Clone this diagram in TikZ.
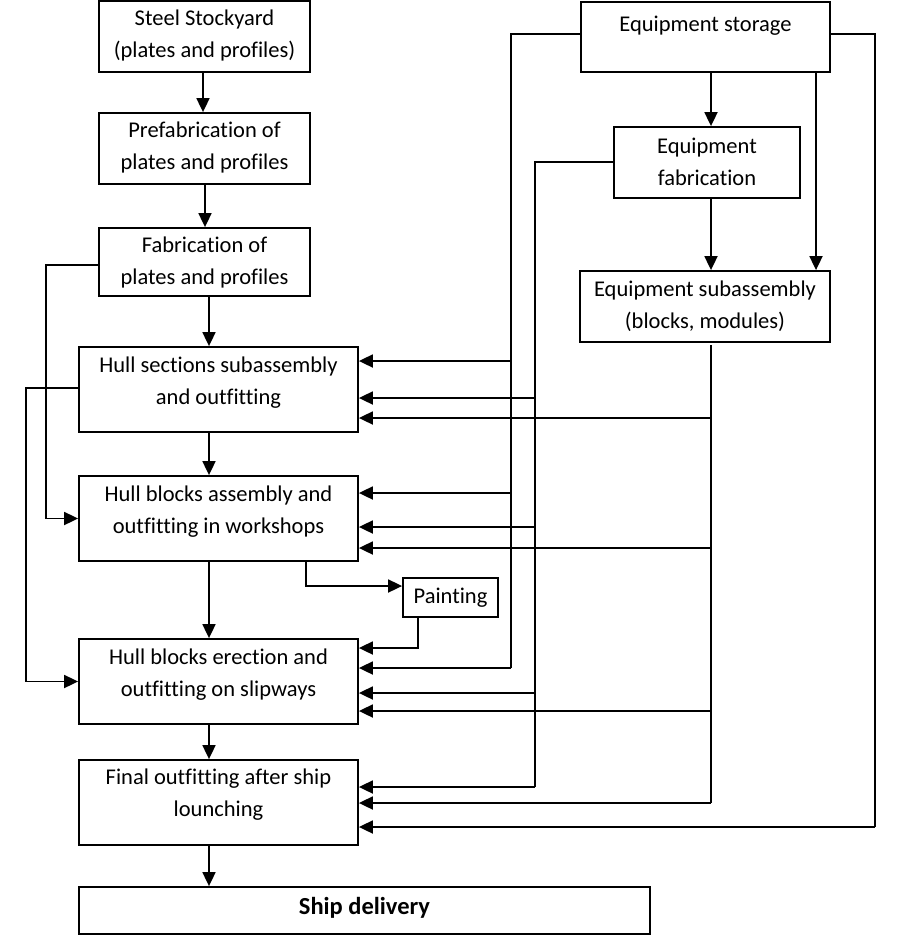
\documentclass[tikz,border=0pt]{standalone}
\usepackage{fontspec}
\setmainfont{Carlito}[Ligatures={NoCommon}]
\usetikzlibrary{arrows.meta}
\begin{document}
\begin{tikzpicture}[x=1pt,y=-1pt,
  box/.style={draw, line width=1.8pt, inner sep=0pt, fill=white},
  txt/.style={align=center, font=\fontsize{22.5}{32}\selectfont, inner sep=0pt},
  arr/.style={line width=1.8pt, -{Triangle[length=14pt,width=13pt]}},
  ln/.style={line width=1.6pt}
]
\useasboundingbox[fill=white] (0,0) rectangle (900,940);

% boxes
\node[box, minimum width=211pt, minimum height=71pt] (ss)  at (204.5,36.5) {};
\node[box, minimum width=211pt, minimum height=71pt] (pf)  at (204.5,148.5) {};
\node[box, minimum width=211pt, minimum height=68pt] (fb)  at (204.5,262) {};
\node[box, minimum width=279pt, minimum height=85pt] (hs)  at (218.5,389.5) {};
\node[box, minimum width=279pt, minimum height=85pt] (hba) at (218.5,518.5) {};
\node[box, minimum width=95pt,  minimum height=39pt] (pnt) at (450.5,597.5) {};
\node[box, minimum width=279pt, minimum height=85pt] (hbe) at (218.5,681.5) {};
\node[box, minimum width=279pt, minimum height=85pt] (fo)  at (218.5,802.5) {};
\node[box, minimum width=571pt, minimum height=47pt] (sd)  at (364.5,910.5) {};
\node[box, minimum width=249pt, minimum height=70pt] (es)  at (705.5,37) {};
\node[box, minimum width=186pt, minimum height=71pt] (ef)  at (707,162.5) {};
\node[box, minimum width=250pt, minimum height=71pt] (esa) at (705,306.5) {};

% texts
\node[txt] (tss)  at (204.5,35.5)  {Steel Stockyard\\(plates and profiles)};
\node[txt] (tpf)  at (204.5,147.5) {Prefabrication of\\plates and profiles};
\node[txt] (tfb)  at (204.5,262.5) {Fabrication of\\plates and profiles};
\node[txt] (ths)  at (218.5,382.5) {Hull sections subassembly\\and outfitting};
\node[txt] (thba) at (218.5,511.5) {Hull blocks assembly and\\outfitting in workshops};
\node[txt] (tpnt) at (450.5,597.5) {Painting};
\node[txt] (thbe) at (218.5,674.5) {Hull blocks erection and\\outfitting on slipways};
\node[txt] (tfo)  at (218.5,794.5) {Final outfitting after ship\\lounching};
\node[txt, font=\fontsize{24.5}{30}\bfseries] (tsd) at (364.5,908) {Ship delivery};
\node[txt] (tes)  at (705.5,25.5)  {Equipment storage};
\node[txt] (tef)  at (707,161.5)   {Equipment\\fabrication};
\node[txt] (tesa) at (705,306.5)   {Equipment subassembly\\(blocks, modules)};

% main chain
\draw[arr] ([xshift=-1.5pt]ss.south) -- ([xshift=-1.5pt]pf.north);
\draw[arr] ([xshift=0.5pt]pf.south) -- ([xshift=0.5pt]fb.north);
\draw[arr] ([xshift=4.5pt]fb.south) -- ([xshift=4.5pt]fb.south |- hs.north);
\draw[arr] ([xshift=-9.5pt]hs.south) -- ([xshift=-9.5pt]hba.north);
\draw[arr] ([xshift=-9.5pt]hba.south) -- ([xshift=-9.5pt]hbe.north);
\draw[arr] ([xshift=-9.5pt]hbe.south) -- ([xshift=-9.5pt]fo.north);
\draw[arr] ([xshift=-9.5pt]fo.south) -- ([xshift=-9.5pt]fo.south |- sd.north);

% equipment chain
\draw[arr] ([xshift=5.5pt]es.south) -- ([xshift=5.5pt]es.south |- ef.north);
\draw[arr] ([xshift=4pt]ef.south) -- ([xshift=4pt]ef.south |- esa.north);
\draw[arr] ([xshift=110.5pt]es.south) -- ([xshift=110.5pt]es.south |- esa.north);

% left feedback lines
\coordinate (cL1) at (46,265);
\coordinate (cL2) at (26,388);
\draw[arr] (fb.west |- cL1) -- (cL1) |- (hba.west);
\draw[arr] (hs.west |- cL2) -- (cL2) |- (hbe.west);

% painting
\draw[arr] (hba.south -| 306,0) |- ([yshift=11.5pt]pnt.west);
\draw[arr] (pnt.south -| 418,0) |- (hbe.east |- 0,648);

% trunks
\coordinate (cA) at (511,34);
\coordinate (cB) at (535,162);
\coordinate (cC) at (711,345);
\coordinate (cD) at (875,34);
\draw[ln] (es.west |- cA) -- (cA) -- (cA |- 0,668);
\draw[ln] (ef.west |- cB) -- (cB) -- (cB |- 0,787);
\draw[ln] (cC) -- (cC |- 0,803);
\draw[ln] (es.east |- cD) -- (cD) -- (cD |- 0,827);

% trunk A arrows
\draw[arr] (cA |- 0,361) -- (hs.east |- 0,361);
\draw[arr] (cA |- 0,493) -- (hba.east |- 0,493);
\draw[arr] (cA |- 0,668) -- (hbe.east |- 0,668);
% trunk B arrows
\draw[arr] (cB |- 0,398) -- (hs.east |- 0,398);
\draw[arr] (cB |- 0,527) -- (hba.east |- 0,527);
\draw[arr] (cB |- 0,693) -- (hbe.east |- 0,693);
\draw[arr] (cB |- 0,787) -- (fo.east |- 0,787);
% trunk C arrows
\draw[arr] (cC |- 0,418) -- (hs.east |- 0,418);
\draw[arr] (cC |- 0,548) -- (hba.east |- 0,548);
\draw[arr] (cC |- 0,711) -- (hbe.east |- 0,711);
\draw[arr] (cC |- 0,803) -- (fo.east |- 0,803);
% trunk D arrow
\draw[arr] (cD |- 0,827) -- (fo.east |- 0,827);
\end{tikzpicture}
\end{document}
